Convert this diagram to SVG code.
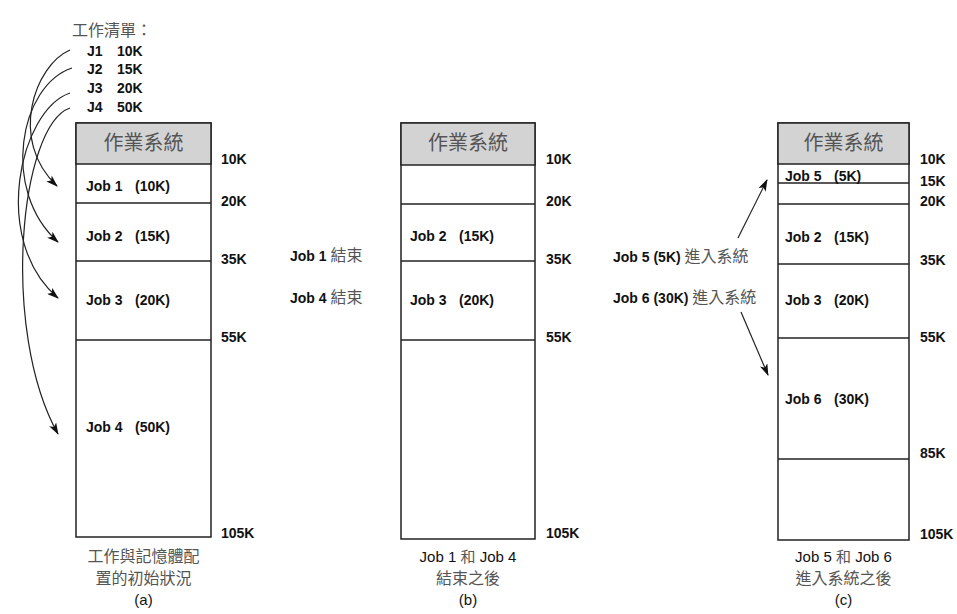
<svg xmlns="http://www.w3.org/2000/svg" width="957" height="614" viewBox="0 0 957 614">
<style>
.box{fill:#fff;stroke:#222;stroke-width:1.5}
.hdr{fill:#d3d3d3;stroke:#222;stroke-width:1.5}
.sep{stroke:#222;stroke-width:1.5}
.lat{font-family:"Liberation Sans","Noto Sans CJK TC",sans-serif;font-size:14px;font-weight:bold;fill:#111}
.cap{font-family:"Liberation Sans","Noto Sans CJK TC",sans-serif;font-size:15px;fill:#111}
.cjk{font-family:"Noto Sans CJK TC",sans-serif;fill:#555;font-weight:normal}
.hd{font-family:"Noto Sans CJK TC",sans-serif;font-size:20px;fill:#555}
.con{fill:none;stroke:#222;stroke-width:1.2}
</style>
<defs>
<marker id="ah" viewBox="0 0 12 8" refX="11" refY="4" markerWidth="12" markerHeight="8" markerUnits="userSpaceOnUse" orient="auto">
<path d="M0,0 L12,4 L0,8 L3,4 Z" fill="#111"/>
</marker>
</defs>

<g id="joblist">
<text x="72" y="36" class="cjk" font-size="16">工作清單：</text>
<text class="lat" x="87" y="56">J1</text><text class="lat" x="117" y="56">10K</text>
<text class="lat" x="87" y="74">J2</text><text class="lat" x="117" y="74">15K</text>
<text class="lat" x="87" y="93">J3</text><text class="lat" x="117" y="93">20K</text>
<text class="lat" x="87" y="112">J4</text><text class="lat" x="117" y="112">50K</text>
</g>

<g id="memory-a">
<rect class="box" x="76" y="123" width="135" height="414"/>
<rect class="hdr" x="76" y="123" width="135" height="41"/>
<text class="hd" x="143.5" y="150" text-anchor="middle">作業系統</text>
<line class="sep" x1="76" y1="203" x2="211" y2="203"/>
<line class="sep" x1="76" y1="261" x2="211" y2="261"/>
<line class="sep" x1="76" y1="340" x2="211" y2="340"/>
<text class="lat" x="86" y="191">Job 1</text><text class="lat" x="135" y="191">(10K)</text>
<text class="lat" x="86" y="241">Job 2</text><text class="lat" x="135" y="241">(15K)</text>
<text class="lat" x="86" y="305">Job 3</text><text class="lat" x="135" y="305">(20K)</text>
<text class="lat" x="86" y="432">Job 4</text><text class="lat" x="135" y="432">(50K)</text>
<text class="lat" x="221" y="164">10K</text>
<text class="lat" x="221" y="206">20K</text>
<text class="lat" x="221" y="264">35K</text>
<text class="lat" x="221" y="342">55K</text>
<text class="lat" x="221" y="538">105K</text>
<text class="cjk" font-size="16" x="143.5" y="562" text-anchor="middle">工作與記憶體配</text>
<text class="cjk" font-size="16" x="143.5" y="584" text-anchor="middle">置的初始狀況</text>
<text class="cap" x="143.5" y="605" text-anchor="middle">(a)</text>
</g>

<g id="memory-b">
<rect class="box" x="401" y="123" width="134" height="416"/>
<rect class="hdr" x="401" y="123" width="134" height="42"/>
<text class="hd" x="468" y="150" text-anchor="middle">作業系統</text>
<line class="sep" x1="401" y1="204" x2="535" y2="204"/>
<line class="sep" x1="401" y1="261" x2="535" y2="261"/>
<line class="sep" x1="401" y1="340" x2="535" y2="340"/>
<text class="lat" x="410" y="241">Job 2</text><text class="lat" x="459" y="241">(15K)</text>
<text class="lat" x="410" y="305">Job 3</text><text class="lat" x="459" y="305">(20K)</text>
<text class="lat" x="546" y="164">10K</text>
<text class="lat" x="546" y="206">20K</text>
<text class="lat" x="546" y="264">35K</text>
<text class="lat" x="546" y="342">55K</text>
<text class="lat" x="546" y="538">105K</text>
<text class="cap" font-size="16" x="468" y="562" text-anchor="middle">Job 1 <tspan class="cjk">和</tspan> Job 4</text>
<text class="cjk" font-size="16" x="468" y="584" text-anchor="middle">結束之後</text>
<text class="cap" x="468" y="605" text-anchor="middle">(b)</text>
</g>

<g id="memory-c">
<rect class="box" x="778" y="123" width="131" height="417"/>
<rect class="hdr" x="778" y="123" width="131" height="41"/>
<text class="hd" x="843.5" y="150" text-anchor="middle">作業系統</text>
<line class="sep" x1="778" y1="183" x2="909" y2="183"/>
<line class="sep" x1="778" y1="204" x2="909" y2="204"/>
<line class="sep" x1="778" y1="264" x2="909" y2="264"/>
<line class="sep" x1="778" y1="338" x2="909" y2="338"/>
<line class="sep" x1="778" y1="459" x2="909" y2="459"/>
<text class="lat" x="785" y="181">Job 5</text><text class="lat" x="834" y="181">(5K)</text>
<text class="lat" x="785" y="242">Job 2</text><text class="lat" x="834" y="242">(15K)</text>
<text class="lat" x="785" y="305">Job 3</text><text class="lat" x="834" y="305">(20K)</text>
<text class="lat" x="785" y="404">Job 6</text><text class="lat" x="834" y="404">(30K)</text>
<text class="lat" x="920" y="164">10K</text>
<text class="lat" x="920" y="186">15K</text>
<text class="lat" x="920" y="206">20K</text>
<text class="lat" x="920" y="265">35K</text>
<text class="lat" x="920" y="342">55K</text>
<text class="lat" x="920" y="458">85K</text>
<text class="lat" x="920" y="539">105K</text>
<text class="cap" font-size="16" x="843.5" y="562" text-anchor="middle">Job 5 <tspan class="cjk">和</tspan> Job 6</text>
<text class="cjk" font-size="16" x="843.5" y="584" text-anchor="middle">進入系統之後</text>
<text class="cap" x="843.5" y="605" text-anchor="middle">(c)</text>
</g>

<g id="events">
<text class="lat" x="290" y="261">Job 1 <tspan class="cjk" font-size="16">結束</tspan></text>
<text class="lat" x="290" y="303">Job 4 <tspan class="cjk" font-size="16">結束</tspan></text>
<text class="lat" x="613" y="262">Job 5 (5K) <tspan class="cjk" font-size="16">進入系統</tspan></text>
<text class="lat" x="613" y="303">Job 6 (30K) <tspan class="cjk" font-size="16">進入系統</tspan></text>
</g>

<g id="connectors">
<path class="con" marker-end="url(#ah)" d="M70,50 C35,65 8,140 57,186"/>
<path class="con" marker-end="url(#ah)" d="M72,68 C20,85 0,190 58,242"/>
<path class="con" marker-end="url(#ah)" d="M70,93 C20,110 -10,240 58,298"/>
<path class="con" marker-end="url(#ah)" d="M70,108 C20,125 0,330 58,434"/>
<path class="con" marker-end="url(#ah)" d="M738,238 L767,180"/>
<path class="con" marker-end="url(#ah)" d="M741,312 L768,375"/>
</g>
</svg>
